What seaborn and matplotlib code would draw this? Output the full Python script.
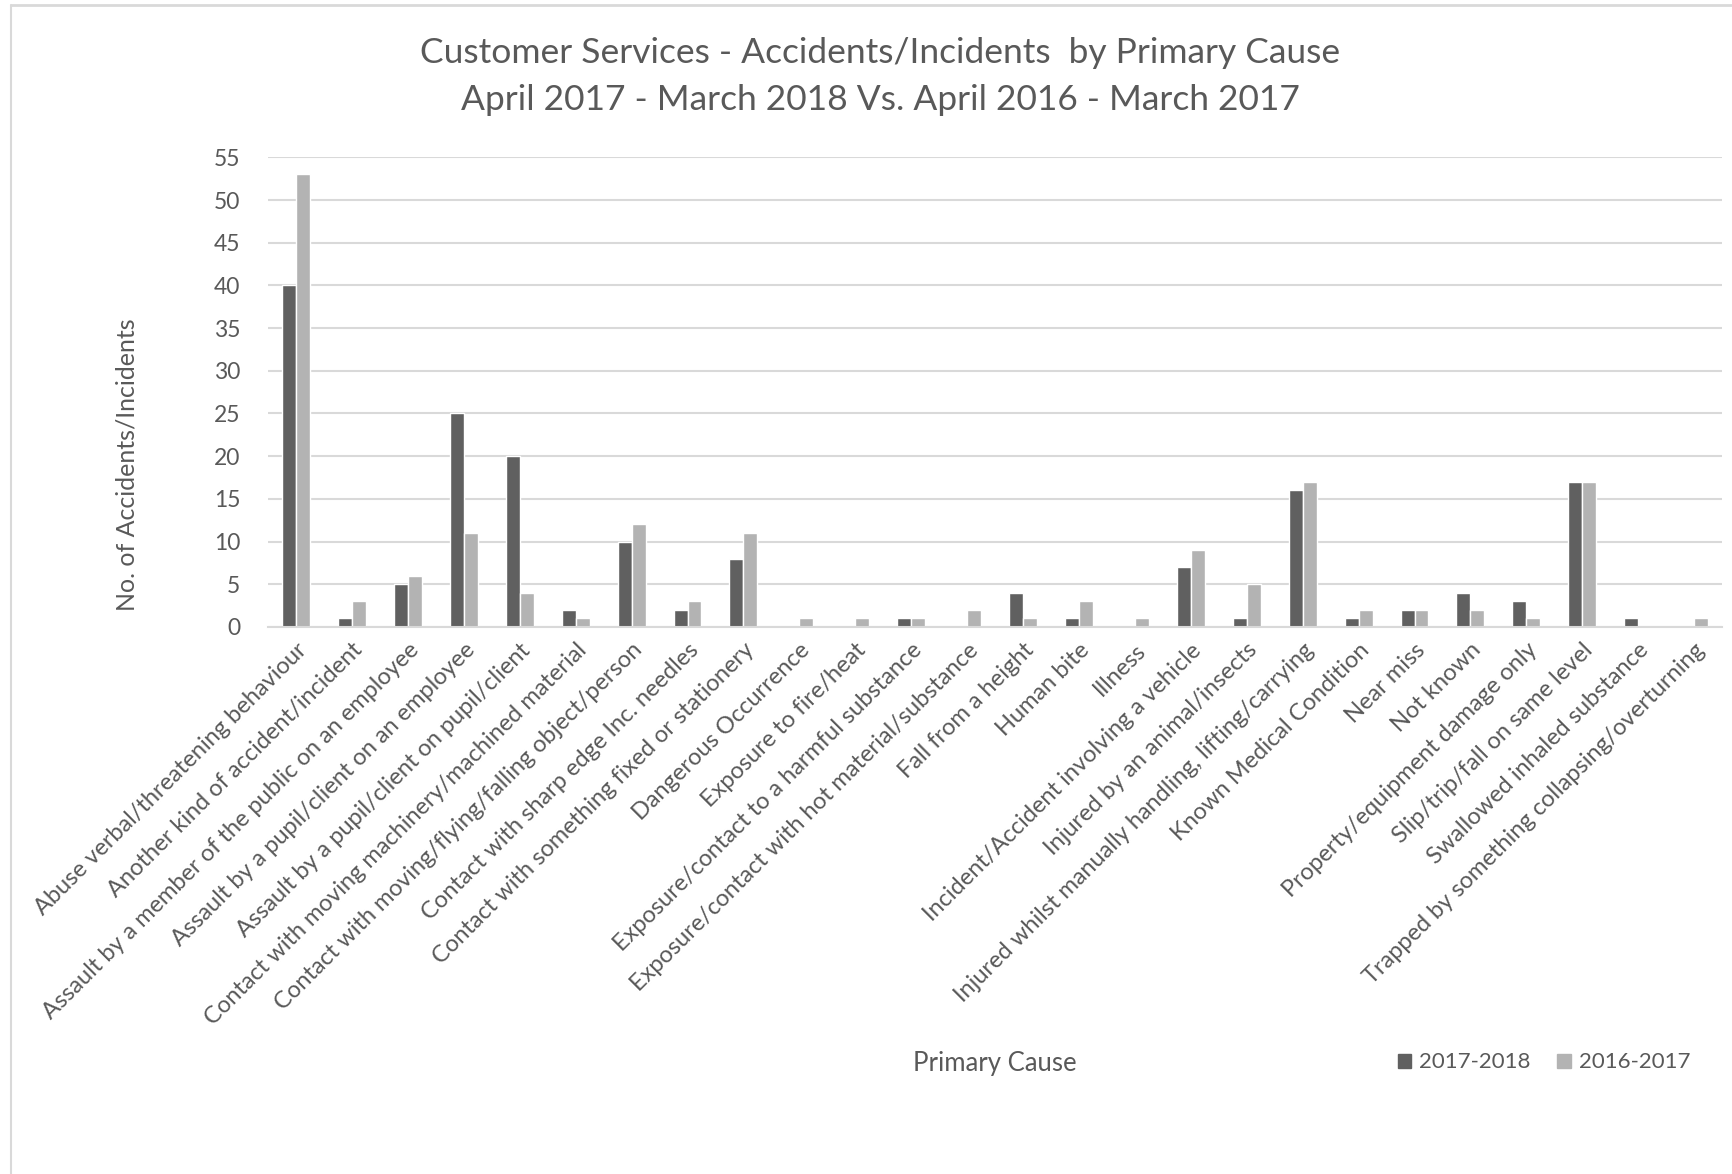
import pandas as pd
import seaborn as sns
import matplotlib.pyplot as plt
from matplotlib.patches import Patch

causes = [
    "Abuse verbal/threatening behaviour",
    "Another kind of accident/incident",
    "Assault by a member of the public on an employee",
    "Assault by a pupil/client on an employee",
    "Assault by a pupil/client on pupil/client",
    "Contact with moving machinery/machined material",
    "Contact with moving/flying/falling object/person",
    "Contact with sharp edge Inc. needles",
    "Contact with something fixed or stationery",
    "Dangerous Occurrence",
    "Exposure to fire/heat",
    "Exposure/contact to a harmful substance",
    "Exposure/contact with hot material/substance",
    "Fall from a height",
    "Human bite",
    "Illness",
    "Incident/Accident involving a vehicle",
    "Injured by an animal/insects",
    "Injured whilst manually handling, lifting/carrying",
    "Known Medical Condition",
    "Near miss",
    "Not known",
    "Property/equipment damage only",
    "Slip/trip/fall on same level",
    "Swallowed inhaled substance",
    "Trapped by something collapsing/overturning",
]
counts_1718 = [40, 1, 5, 25, 20, 2, 10, 2, 8, 0, 0, 1, 0, 4, 1, 0, 7, 1, 16, 1, 2, 4, 3, 17, 1, 0]
counts_1617 = [53, 3, 6, 11, 4, 1, 12, 3, 11, 1, 1, 1, 2, 1, 3, 1, 9, 5, 17, 2, 2, 2, 1, 17, 0, 1]
periods = ["2017-2018", "2016-2017"]

df = pd.concat([
    pd.DataFrame({"cause": causes, "count": counts_1718, "period": periods[0]}),
    pd.DataFrame({"cause": causes, "count": counts_1617, "period": periods[1]}),
])

text_col = "#595959"
grid_col = "#d9d9d9"
palette = {"2017-2018": "#606060", "2016-2017": "#b3b3b3"}

sns.set_style("white")
plt.rcParams['font.family'] = ['Lato', 'DejaVu Sans']

fig = plt.figure(figsize=(17.33, 11.74), dpi=100)
ax = fig.add_axes([0.1547, 0.466, 0.839, 0.400])

sns.barplot(data=df, x="cause", y="count", hue="period", palette=palette,
            width=0.5, edgecolor="white", linewidth=1, legend=False, ax=ax)

ax.set_ylim(0, 55)
ax.set_yticks(range(0, 56, 5))
ax.set_xlim(-0.5, len(causes) - 0.5)
ax.yaxis.grid(True, color=grid_col, linewidth=1.5)
ax.set_axisbelow(True)
for s in ["top", "right", "left"]:
    ax.spines[s].set_visible(False)
ax.spines["bottom"].set_color(grid_col)
ax.spines["bottom"].set_linewidth(1.5)
ax.tick_params(length=0, colors=text_col)
ax.tick_params(axis="y", pad=20, labelsize=16.5)
ax.tick_params(axis="x", pad=9, labelsize=17)
ax.set_xticks(range(len(causes)))
ax.set_xticklabels(causes, rotation=45, ha="right", va="top", rotation_mode="anchor")
for lbl in ax.get_xticklabels():
    lbl.set_color(text_col)
ax.set_xlabel("")
ax.set_ylabel("")

fig.text(0.508, 0.955, "Customer Services - Accidents/Incidents  by Primary Cause",
         ha="center", va="center", fontsize=25.5, color=text_col)
fig.text(0.508, 0.915, "April 2017 - March 2018 Vs. April 2016 - March 2017",
         ha="center", va="center", fontsize=25.5, color=text_col)
fig.text(0.073, 0.604, "No. of Accidents/Incidents", rotation=90,
         ha="center", va="center", fontsize=18, color=text_col)
fig.text(0.574, 0.094, "Primary Cause", ha="center", va="center",
         fontsize=18.5, color=text_col)

handles = [Patch(color=palette[p], label=p) for p in periods]
fig.legend(handles=handles, loc="center", bbox_to_anchor=(0.891, 0.095), ncol=2,
           frameon=False, fontsize=16, labelcolor=text_col, handlelength=0.6,
           handleheight=0.6, handletextpad=0.35, columnspacing=1.2)

# chart area border
fig.add_artist(plt.Line2D([0.0065, 0.0065], [0, 0.996], color=grid_col, linewidth=1.5))
fig.add_artist(plt.Line2D([0.0065, 1], [0.996, 0.996], color=grid_col, linewidth=2))

fig.savefig("out.png", dpi=100)
